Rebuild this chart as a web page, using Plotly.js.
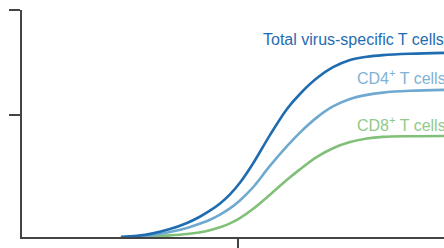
<!DOCTYPE html>
<html>
<head>
<meta charset="utf-8">
<script src="https://cdn.plot.ly/plotly-3.0.1.min.js"></script>
<style>
html,body{margin:0;padding:0;background:#fff;}
#chart{width:444px;height:248px;}
</style>
</head>
<body>
<div id="chart"></div>
<script>
// Time (arbitrary units) and relative response magnitude (arbitrary units)
var time = [4.58, 5.32, 6.06, 6.85, 7.64, 8.19, 8.70, 9.17, 9.63, 10.09, 10.69, 11.48, 12.27, 12.87, 13.66, 14.40, 15.19, 15.97, 16.71, 17.96, 19.54];
var totalCells = [0, 0.5, 1.6, 3.5, 6.2, 8.7, 11.6, 14.8, 18.8, 23.9, 32.3, 44.9, 56.4, 63.0, 70.0, 74.8, 78.0, 79.4, 80.1, 80.7, 81.1];
var cd4Cells = [0, 0.2, 0.9, 2.2, 4.0, 5.7, 7.6, 9.9, 12.6, 16.1, 21.8, 31.3, 40.0, 46.0, 52.7, 57.5, 60.8, 62.6, 63.6, 64.4, 64.8];
var cd8Cells = [0, 0.1, 0.3, 0.7, 1.3, 2.0, 3.0, 4.3, 6.0, 8.3, 12.3, 18.6, 25.2, 29.8, 35.3, 39.1, 41.8, 43.4, 44.1, 44.4, 44.5];
var seriesNames = ["Total virus-specific T cells", "CD4<sup>+</sup> T cells", "CD8<sup>+</sup> T cells"];
var xTicks = [10];
var yTicks = [53.7, 100];

var cTotal = "#1f6cb0", cCD4 = "#6fa9cf", cCD8 = "#80c078";

var traces = [
  {x: time, y: cd8Cells, mode: "lines", line: {color: cCD8, width: 2.6, shape: "spline"}, name: seriesNames[2], hoverinfo: "none"},
  {x: time, y: cd4Cells, mode: "lines", line: {color: cCD4, width: 2.6, shape: "spline"}, name: seriesNames[1], hoverinfo: "none"},
  {x: time, y: totalCells, mode: "lines", line: {color: cTotal, width: 2.6, shape: "spline"}, name: seriesNames[0], hoverinfo: "none"}
];

var fontFam = "Liberation Sans, Arial, sans-serif";
var layout = {
  width: 444, height: 248,
  margin: {l: 22, r: 0, t: 10, b: 11, pad: 0},
  paper_bgcolor: "#fff", plot_bgcolor: "#fff",
  showlegend: false,
  xaxis: {range: [0, 19.54], showgrid: false, zeroline: false, showline: true, linecolor: "#444", linewidth: 2,
          tickvals: xTicks, ticktext: [""], ticks: "outside", ticklen: 11, tickwidth: 2, tickcolor: "#444", fixedrange: true},
  yaxis: {range: [0, 100], showgrid: false, zeroline: false, showline: true, linecolor: "#444", linewidth: 2,
          tickvals: yTicks, ticktext: ["", ""], ticks: "outside", ticklen: 11, tickwidth: 2, tickcolor: "#444", fixedrange: true},
  annotations: [
    {x: 11.06, y: 87.2, xref: "x", yref: "y", text: seriesNames[0], showarrow: false, xanchor: "left", yanchor: "middle",
     font: {family: fontFam, size: 16, color: cTotal}},
    {x: 15.42, y: 70.5, xref: "x", yref: "y", text: seriesNames[1], showarrow: false, xanchor: "left", yanchor: "middle",
     font: {family: fontFam, size: 16, color: "#7fb2d4"}},
    {x: 15.42, y: 49.6, xref: "x", yref: "y", text: seriesNames[2], showarrow: false, xanchor: "left", yanchor: "middle",
     font: {family: fontFam, size: 16, color: "#90c98a"}}
  ]
};

Plotly.newPlot("chart", traces, layout, {displayModeBar: false, staticPlot: true});
</script>
</body>
</html>
